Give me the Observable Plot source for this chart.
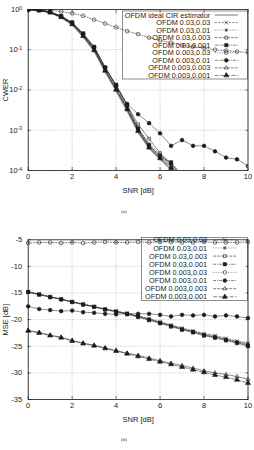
<!DOCTYPE html>
<html>
<head>
<meta charset="utf-8">
<script src="https://cdn.jsdelivr.net/npm/d3@7"></script>
<script src="https://cdn.jsdelivr.net/npm/@observablehq/plot@0.6"></script>
<style>
  body { margin: 0; background: #fff; }
  #page { position: relative; width: 254px; height: 450px; font-family: "Liberation Sans", Arial, sans-serif; color: #111; }
  .panel { position: absolute; left: 0; }
  .cap { position: absolute; transform: translateX(-50%); font-family: "Liberation Serif", serif; font-size: 5px; color: #222; }
</style>
</head>
<body>
<div id="page"></div>
<script>
// SNR grid (dB), tick values
const snr = [0, 0.5, 1, 1.5, 2, 2.5, 3, 3.5, 4, 4.5, 5, 5.5, 6, 6.5, 7, 7.5, 8, 8.5, 9, 9.5, 10];
const xTicks = [0, 2, 4, 6, 8, 10];
const cwerTicks = [1e-4, 1e-3, 1e-2, 1e-1, 1];
const mseTicks = [-35, -30, -25, -20, -15, -10, -5];

const idealName = "OFDM ideal CIR estimator";
const seriesNames = [
  "OFDM 0.03,0.03", "OFDM 0.03,0.01", "OFDM 0.03,0.003", "OFDM 0.03,0.001",
  "OFDM 0.003,0.03", "OFDM 0.003,0.01", "OFDM 0.003,0.003", "OFDM 0.003,0.001"
];

// (a) codeword error rate
const cwerIdeal    = [1, 0.944, 0.832, 0.631, 0.417, 0.209, 0.0933, 0.0282, 0.00955, 0.00302, 8.9e-4, 3.55e-4, 1.9e-4, 1.05e-4, 5.0e-5];
const cwer_03_03   = [1, 0.955, 0.85, 0.66, 0.44, 0.228, 0.104, 0.032, 0.0112, 0.0036, 1.05e-3, 4.2e-4, 2.3e-4, 1.35e-4, 6.0e-5];
const cwer_03_01   = [1, 0.96, 0.86, 0.67, 0.455, 0.238, 0.11, 0.0345, 0.0122, 0.0039, 1.15e-3, 4.6e-4, 2.5e-4, 1.45e-4, 6.5e-5];
const cwer_03_003  = [1, 0.965, 0.87, 0.685, 0.47, 0.25, 0.118, 0.037, 0.0128, 0.0042, 1.4e-3, 6.2e-4, 2.7e-4, 1.5e-4, 7.0e-5];
const cwer_03_001  = [1, 0.97, 0.875, 0.69, 0.48, 0.255, 0.118, 0.036, 0.0135, 0.0043, 1.1e-3, 4.2e-4, 2.2e-4, 1.6e-4, 7.5e-5];
const cwer_003_03  = [1, 0.99, 0.95, 0.89, 0.8, 0.7, 0.56, 0.45, 0.36, 0.29, 0.245, 0.2, 0.17, 0.15, 0.13, 0.12, 0.11, 0.1, 0.095, 0.09, 0.085];
const cwer_003_01  = [1, 0.96, 0.86, 0.67, 0.46, 0.24, 0.112, 0.036, 0.0128, 0.0045, 2.5e-3, 1.5e-3, 8.4e-4, 4.1e-4, 5.7e-4, 4.1e-4, 4.1e-4, 3.0e-4, 2.1e-4, 1.9e-4, 1.3e-4];
const cwer_003_003 = [1, 0.955, 0.845, 0.65, 0.44, 0.225, 0.1, 0.031, 0.0105, 0.0034, 1.0e-3, 3.9e-4, 2.1e-4, 1.25e-4, 5.5e-5];
const cwer_003_001 = [1, 0.95, 0.84, 0.645, 0.43, 0.218, 0.097, 0.03, 0.0101, 0.0033, 9.5e-4, 3.7e-4, 2.0e-4, 1.15e-4, 5.2e-5];

// (b) channel estimation MSE in dB
const mse_03_03   = [-14.8, -15.2, -15.7, -16.1, -16.6, -17.1, -17.5, -18.0, -18.4, -18.8, -19.3, -19.8, -20.4, -21.0, -21.6, -22.1, -22.6, -23.0, -23.5, -24.0, -24.4];
const mse_03_01   = [-14.8, -15.2, -15.7, -16.2, -16.6, -17.1, -17.6, -18.0, -18.4, -18.9, -19.4, -19.9, -20.5, -21.1, -21.7, -22.2, -22.8, -23.2, -23.7, -24.2, -24.6];
const mse_03_003  = [-14.8, -15.3, -15.7, -16.2, -16.7, -17.1, -17.6, -18.1, -18.5, -18.9, -19.4, -20.0, -20.6, -21.2, -21.8, -22.3, -22.9, -23.3, -23.8, -24.3, -24.8];
const mse_03_001  = [-14.8, -15.3, -15.8, -16.2, -16.7, -17.2, -17.6, -18.1, -18.5, -19.0, -19.5, -20.1, -20.7, -21.3, -21.9, -22.4, -23.0, -23.4, -23.9, -24.4, -25.0];
const mse_003_03  = [-5.6, -5.5, -5.5, -5.6, -5.5, -5.6, -5.5, -5.4, -5.5, -5.5, -5.4, -5.5, -5.4, -5.4, -5.5, -5.5, -5.4, -5.5, -5.5, -5.5, -5.4];
const mse_003_01  = [-17.5, -18.0, -18.2, -18.4, -18.3, -18.6, -18.7, -18.9, -19.0, -18.9, -18.9, -18.9, -19.1, -19.4, -19.1, -19.2, -19.1, -19.4, -19.2, -19.4, -19.7];
const mse_003_003 = [-22.0, -22.4, -22.9, -23.3, -23.9, -24.4, -24.8, -25.3, -25.8, -26.3, -26.7, -27.2, -27.7, -28.2, -28.6, -29.1, -29.6, -30.0, -30.3, -30.7, -31.2];
const mse_003_001 = [-22.1, -22.5, -23.0, -23.4, -24.0, -24.5, -24.9, -25.4, -25.9, -26.4, -26.9, -27.4, -27.9, -28.4, -28.9, -29.4, -29.9, -30.4, -30.8, -31.3, -31.9];

const cwerSeries = [cwer_03_03, cwer_03_01, cwer_03_003, cwer_03_001, cwer_003_03, cwer_003_01, cwer_003_003, cwer_003_001];
const mseSeries = [mse_03_03, mse_03_01, mse_03_003, mse_03_001, mse_003_03, mse_003_01, mse_003_003, mse_003_001];

// line and point style of each estimator setting
const ink = "#1c1c1c";
const seriesStyle = [
  {symbol: "times",     filled: false, dash: "2,1.5"},
  {symbol: "asterisk",  filled: false, dash: "1,1.5"},
  {symbol: "square2",   filled: false, dash: "3,1"},
  {symbol: "square",    filled: true,  dash: "3,1,1,1"},
  {symbol: "circle",    filled: false, dash: "1,1.5"},
  {symbol: "circle",    filled: true,  dash: "3,1,1,1"},
  {symbol: "triangle2", filled: false, dash: "3,1"},
  {symbol: "triangle",  filled: true,  dash: "4,1.5"}
];
const idealStyle = {stroke: "#9a9a9a", width: 1.4};
const markR = 1.85;

const d3Symbols = {
  times: d3.symbolTimes, asterisk: d3.symbolAsterisk, square: d3.symbolSquare, square2: d3.symbolSquare2,
  circle: d3.symbolCircle, triangle: d3.symbolTriangle, triangle2: d3.symbolTriangle2
};

function rows(values) {
  return snr.map((x, i) => ({snr: x, v: values[i]})).filter(d => d.v != null);
}

function seriesMarks(values, style, clip) {
  const data = rows(values);
  return [
    Plot.line(data, {x: "snr", y: "v", stroke: ink, strokeWidth: 0.55, strokeDasharray: style.dash, clip}),
    Plot.dot(data, {x: "snr", y: "v", r: markR, symbol: style.symbol, fill: style.filled ? ink : "none", stroke: ink, strokeWidth: 0.6, clip})
  ];
}

// key drawn inside the frame, under the curves
function legendMark(entries, box) {
  return (index, scales, values, dims) => {
    const ns = "http://www.w3.org/2000/svg";
    const mk = (tag, attrs) => {
      const e = document.createElementNS(ns, tag);
      for (const k in attrs) if (attrs[k] != null) e.setAttribute(k, attrs[k]);
      return e;
    };
    const right = dims.width - dims.marginRight;
    const top = dims.marginTop + box.top;
    const g = mk("g", {"aria-label": "legend"});
    g.appendChild(mk("rect", {x: right - box.width, y: top, width: box.width, height: box.height, fill: "#fff", stroke: "#444", "stroke-width": 0.6}));
    entries.forEach((e, i) => {
      const cy = top + box.first + i * box.step;
      const t = mk("text", {x: right - box.textRight, y: cy, dy: "0.36em", "text-anchor": "end", fill: ink, "font-size": box.fontSize});
      t.textContent = e.name;
      g.appendChild(t);
      if (e.style.symbol) {
        g.appendChild(mk("line", {x1: right - box.lineFrom, x2: right - box.lineTo, y1: cy, y2: cy, stroke: ink, "stroke-width": 0.55, "stroke-dasharray": e.style.dash}));
        const p = d3.symbol(d3Symbols[e.style.symbol], Math.PI * markR * markR)();
        g.appendChild(mk("path", {d: p, transform: `translate(${right - box.mark},${cy})`, fill: e.style.filled ? ink : "none", stroke: ink, "stroke-width": 0.6}));
      } else {
        g.appendChild(mk("line", {x1: right - box.lineFrom, x2: right - box.lineTo, y1: cy, y2: cy, stroke: e.style.stroke, "stroke-width": e.style.width}));
      }
    });
    return g;
  };
}

const gridStyle = {stroke: "#9a9a9a", strokeOpacity: 1, strokeWidth: 0.6, strokeDasharray: "1,1.5"};
const plotStyle = {fontFamily: '"Liberation Sans", Arial, sans-serif', fontSize: "7.5px", color: ink, background: "transparent", overflow: "visible"};

function frameTicks(xt, yt) {
  return [
    Plot.axisX(xt, {anchor: "bottom", tickSize: -3, fill: "none", stroke: ink, strokeWidth: 0.6, label: null}),
    Plot.axisX(xt, {anchor: "top", tickSize: -3, fill: "none", stroke: ink, strokeWidth: 0.6, label: null}),
    Plot.axisY(yt, {anchor: "left", tickSize: -3, fill: "none", stroke: ink, strokeWidth: 0.6, label: null}),
    Plot.axisY(yt, {anchor: "right", tickSize: -3, fill: "none", stroke: ink, strokeWidth: 0.6, label: null})
  ];
}

const page = document.getElementById("page");

// (a) CWER versus SNR
const topLegend = [{name: idealName, style: idealStyle}, ...seriesNames.map((n, i) => ({name: n, style: seriesStyle[i]}))];
const chartA = Plot.plot({
  width: 254, height: 200,
  marginLeft: 27.7, marginRight: 6.5, marginTop: 9, marginBottom: 30,
  style: plotStyle,
  x: {domain: [0, 10]},
  y: {type: "log", domain: [1e-4, 1]},
  marks: [
    Plot.gridX(xTicks, gridStyle),
    Plot.gridY(cwerTicks, gridStyle),
    legendMark(topLegend, {top: 2, width: 125, height: 68, first: 4, step: 7.55, textRight: 37.2, lineFrom: 32.7, lineTo: 9.7, mark: 21.2, fontSize: "7.3px"}),
    Plot.line(rows(cwerIdeal), {x: "snr", y: "v", stroke: idealStyle.stroke, strokeWidth: idealStyle.width, clip: true}),
    ...cwerSeries.flatMap((s, i) => seriesMarks(s, seriesStyle[i], true)),
    Plot.frame({stroke: ink, strokeWidth: 0.8}),
    ...frameTicks(xTicks, cwerTicks),
    Plot.axisX(xTicks, {tickSize: 0, tickPadding: 3.5, tickFormat: d => String(d), label: "SNR [dB]", labelAnchor: "center", labelArrow: "none", labelOffset: 22}),
    Plot.axisY(cwerTicks, {tickSize: 0, tickPadding: 6, tickFormat: d => "10^" + Math.round(Math.log10(d)), label: "CWER", labelAnchor: "center", labelArrow: "none", labelOffset: 26})
  ]
});
chartA.classList.add("panel");
chartA.style.top = "0px";
// powers of ten with raised exponents
chartA.querySelectorAll('g[aria-label="y-axis tick label"] text').forEach(t => {
  const [base, exp] = t.textContent.split("^");
  t.textContent = "";
  const ns = "http://www.w3.org/2000/svg";
  const b = document.createElementNS(ns, "tspan"); b.textContent = base; t.appendChild(b);
  const e = document.createElementNS(ns, "tspan");
  e.setAttribute("dy", "-0.45em"); e.setAttribute("font-size", "5.2px"); e.textContent = exp;
  t.appendChild(e);
});
page.appendChild(chartA);

// (b) MSE versus SNR
const bottomLegend = seriesNames.map((n, i) => ({name: n, style: seriesStyle[i]}));
const chartB = Plot.plot({
  width: 254, height: 199,
  marginLeft: 27.7, marginRight: 6.5, marginTop: 14.3, marginBottom: 25,
  style: plotStyle,
  x: {domain: [0, 10]},
  y: {domain: [-35, -5]},
  marks: [
    Plot.gridX(xTicks, gridStyle),
    Plot.gridY(mseTicks, gridStyle),
    legendMark(bottomLegend, {top: -2, width: 106, height: 63, first: 2.5, step: 8.15, textRight: 40.4, lineFrom: 34.4, lineTo: 11, mark: 22.7, fontSize: "7.3px"}),
    ...mseSeries.flatMap((s, i) => seriesMarks(s, seriesStyle[i], false)),
    Plot.frame({stroke: ink, strokeWidth: 0.8}),
    ...frameTicks(xTicks, mseTicks),
    Plot.axisX(xTicks, {tickSize: 0, tickPadding: 3.5, tickFormat: d => String(d), label: "SNR [dB]", labelAnchor: "center", labelArrow: "none", labelOffset: 22}),
    Plot.axisY(mseTicks, {tickSize: 0, tickPadding: 6, tickFormat: d => String(d), label: "MSE [dB]", labelAnchor: "center", labelArrow: "none", labelOffset: 26})
  ]
});
chartB.classList.add("panel");
chartB.style.top = "225px";
page.appendChild(chartB);

// sub-figure captions
[["(a)", 212], ["(b)", 440]].forEach(([txt, y]) => {
  const c = document.createElement("div");
  c.className = "cap";
  c.style.left = "124px";
  c.style.top = (y - 3) + "px";
  c.textContent = txt;
  page.appendChild(c);
});
</script>
</body>
</html>
